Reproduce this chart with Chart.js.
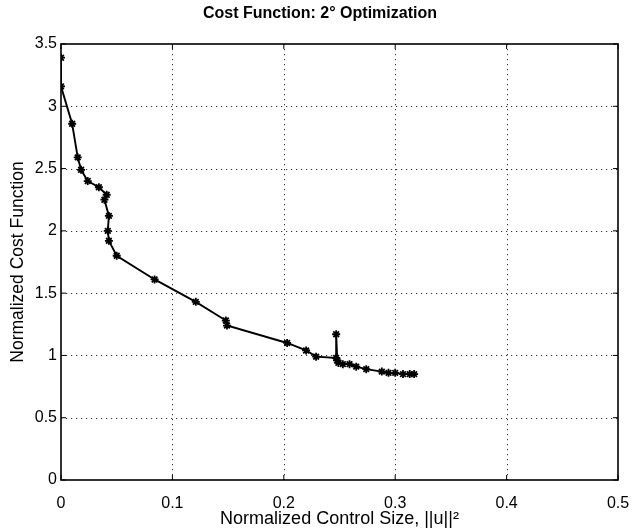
<!DOCTYPE html>
<html>
<head>
<meta charset="utf-8">
<script src="https://cdn.jsdelivr.net/npm/chart.js@4"></script>
<style>
  html, body { margin: 0; padding: 0; background: #fff; }
</style>
</head>
<body>
<canvas id="costChart" width="632" height="528"></canvas>
<script>
const controlSize = [0, 0, 0.010, 0.015, 0.018, 0.024, 0.034, 0.041, 0.039, 0.043, 0.042, 0.043, 0.050,
  0.084, 0.121, 0.148, 0.149, 0.203, 0.220, 0.229, 0.247, 0.247, 0.248, 0.249, 0.253, 0.259,
  0.265, 0.274, 0.288, 0.294, 0.300, 0.307, 0.313, 0.317];
const costValue = [3.39, 3.16, 2.86, 2.59, 2.49, 2.40, 2.35, 2.29, 2.25, 2.12, 2.00, 1.92, 1.80,
  1.61, 1.43, 1.28, 1.24, 1.10, 1.04, 0.99, 0.98, 1.17, 0.96, 0.94, 0.93, 0.93,
  0.91, 0.89, 0.87, 0.86, 0.86, 0.85, 0.85, 0.85];
const xTickValues = [0, 0.1, 0.2, 0.3, 0.4, 0.5];
const yTickValues = [0, 0.5, 1, 1.5, 2, 2.5, 3, 3.5];

const font = "'Liberation Sans', Arial, Helvetica, sans-serif";

// dotted grid under the data
const dottedGrid = {
  id: "dottedGrid",
  beforeDatasetsDraw(chart) {
    const { ctx, chartArea: a, scales } = chart;
    ctx.save();
    ctx.strokeStyle = "#333";
    ctx.lineWidth = 1;
    ctx.setLineDash([1.2, 3.8]);
    ctx.beginPath();
    xTickValues.slice(1, -1).forEach((v) => {
      const x = Math.round(scales.x.getPixelForValue(v)) + 0.5;
      ctx.moveTo(x, a.top);
      ctx.lineTo(x, a.bottom);
    });
    yTickValues.slice(1, -1).forEach((v) => {
      const y = Math.round(scales.y.getPixelForValue(v)) + 0.5;
      ctx.moveTo(a.left, y);
      ctx.lineTo(a.right, y);
    });
    ctx.stroke();
    ctx.restore();
  },
};

// matlab style box with inward ticks
const boxTicks = {
  id: "boxTicks",
  afterDatasetsDraw(chart) {
    const { ctx, chartArea: a, scales } = chart;
    const len = 5;
    ctx.save();
    ctx.strokeStyle = "#000";
    ctx.lineWidth = 1.6;
    ctx.strokeRect(a.left, a.top, a.right - a.left, a.bottom - a.top);
    ctx.lineWidth = 1;
    ctx.beginPath();
    xTickValues.forEach((v) => {
      const x = scales.x.getPixelForValue(v);
      ctx.moveTo(x, a.bottom);
      ctx.lineTo(x, a.bottom - len);
      ctx.moveTo(x, a.top);
      ctx.lineTo(x, a.top + len);
    });
    yTickValues.forEach((v) => {
      const y = scales.y.getPixelForValue(v);
      ctx.moveTo(a.left, y);
      ctx.lineTo(a.left + len, y);
      ctx.moveTo(a.right, y);
      ctx.lineTo(a.right - len, y);
    });
    ctx.stroke();
    ctx.restore();
  },
};

const points = controlSize.map((x, i) => ({ x: x, y: costValue[i] }));

new Chart(document.getElementById("costChart"), {
  type: "scatter",
  data: {
    datasets: [
      {
        data: points,
        showLine: true,
        borderColor: "#000",
        borderWidth: 1.9,
        pointStyle: "star",
        pointRadius: 4,
        pointBorderWidth: 1.8,
        pointBorderColor: "#000",
        pointBackgroundColor: "#000",
      },
    ],
  },
  options: {
    responsive: false,
    animation: false,
    layout: { padding: { left: 8, right: 0, top: 0, bottom: 0 } },
    plugins: {
      legend: { display: false },
      tooltip: { enabled: false },
      title: {
        display: true,
        text: "Cost Function: 2\u00B0 Optimization",
        color: "#000",
        font: { family: font, size: 16, weight: "bold" },
        padding: { top: 4, bottom: 20.8 },
      },
    },
    scales: {
      x: {
        type: "linear",
        min: 0,
        max: 0.5,
        afterBuildTicks: (scale) => {
          scale.ticks = xTickValues.map((v) => ({ value: v }));
        },
        afterFit: (scale) => {
          scale.height = 48;
          scale.paddingLeft = 0;
          scale.paddingRight = 0;
        },
        border: { display: false },
        grid: { display: false, drawTicks: false },
        ticks: {
          color: "#000",
          padding: 14,
          font: { family: font, size: 16 },
          maxRotation: 0,
          callback: (v) => String(v),
        },
        title: {
          display: true,
          text: "Normalized Control Size, ||u||\u00B2",
          color: "#000",
          font: { family: font, size: 18 },
          padding: { top: 0, bottom: -2 },
        },
      },
      y: {
        type: "linear",
        min: 0,
        max: 3.5,
        afterBuildTicks: (scale) => {
          scale.ticks = yTickValues.map((v) => ({ value: v }));
        },
        afterFit: (scale) => {
          scale.width = 53;
          scale.paddingTop = 0;
          scale.paddingBottom = 0;
        },
        border: { display: false },
        grid: { display: false, drawTicks: false },
        ticks: {
          color: "#000",
          padding: 4,
          font: { family: font, size: 16 },
          callback: (v) => String(v),
        },
        title: {
          display: true,
          text: "Normalized Cost Function",
          color: "#000",
          font: { family: font, size: 17.5 },
          padding: { top: 0, bottom: 0 },
        },
      },
      // empty strip on the right, keeps the box edge where the figure has it
      yRight: {
        type: "linear",
        position: "right",
        min: 0,
        max: 3.5,
        afterFit: (scale) => {
          scale.width = 14;
          scale.paddingTop = 0;
          scale.paddingBottom = 0;
        },
        border: { display: false },
        grid: { display: false, drawTicks: false },
        ticks: { display: false },
      },
    },
  },
  plugins: [dottedGrid, boxTicks],
});
</script>
</body>
</html>
